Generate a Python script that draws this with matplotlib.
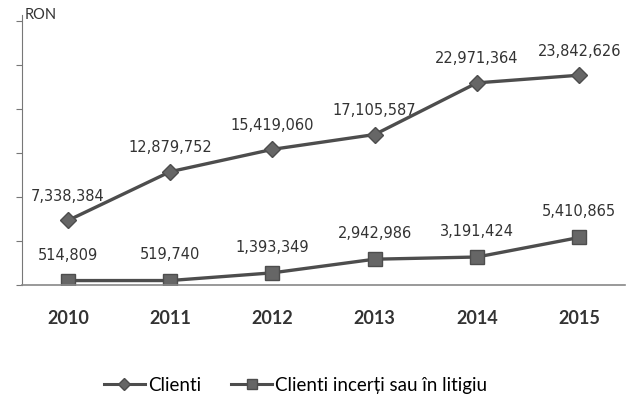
import numpy as np
import matplotlib
matplotlib.use('Agg')
import matplotlib.pyplot as plt
from matplotlib.ticker import MultipleLocator, NullFormatter
from matplotlib.lines import Line2D

# data
years = ['2010', '2011', '2012', '2013', '2014', '2015']
clienti = [7338384, 12879752, 15419060, 17105587, 22971364, 23842626]
clienti_incerti = [514809, 519740, 1393349, 2942986, 3191424, 5410865]
series_names = ['Clienti', 'Clienti incerți sau în litigiu']

line_col = '#4d4d4d'
mark_col = '#666666'

fig = plt.figure(figsize=(6.42, 4.12), dpi=100)
ax = fig.add_axes([0.034, 0.308, 0.94, 0.656])

x = np.arange(len(years))
ax.plot(x, clienti, color=line_col, lw=2.4, marker='D', ms=8,
        mfc=mark_col, mec=line_col)
ax.plot(x, clienti_incerti, color=line_col, lw=2.4, marker='s', ms=10,
        mfc=mark_col, mec=line_col)

# data labels
for xi, v in zip(x, clienti):
    ax.annotate(f'{v:,}', (xi, v), xytext=(0, 12), textcoords='offset points',
                ha='center', va='bottom', fontsize=10.5, color='#333333')
for xi, v in zip(x, clienti_incerti):
    ax.annotate(f'{v:,}', (xi, v), xytext=(0, 13), textcoords='offset points',
                ha='center', va='bottom', fontsize=10.5, color='#333333')

ax.set_xlim(-0.45, 5.45)
ax.set_ylim(0, 30.7e6)
ax.set_xticks(x)
ax.set_xticklabels(years, fontsize=13, fontweight='bold', color='#333333',
                   family='Lato')
ax.tick_params(axis='x', length=0, pad=18)
ax.yaxis.set_major_locator(MultipleLocator(5e6))
ax.yaxis.set_major_formatter(NullFormatter())
ax.tick_params(axis='y', length=4, width=0.8, color='#777777', direction='out')

for s in ['top', 'right']:
    ax.spines[s].set_visible(False)
ax.spines['left'].set_color('#777777')
ax.spines['bottom'].set_color('#888888')
ax.spines['bottom'].set_linewidth(1.2)

ax.text(0.005, 1.0, 'RON', transform=ax.transAxes, fontsize=10.5,
        family='Lato', color='#333333', va='center', ha='left')

# legend with small markers like the original
handles = [Line2D([], [], color=line_col, lw=2.2, marker='D', ms=6,
                  mfc=mark_col, mec=line_col),
           Line2D([], [], color=line_col, lw=2.2, marker='s', ms=7,
                  mfc=mark_col, mec=line_col)]
fig.legend(handles, series_names, loc='center', bbox_to_anchor=(0.46, 0.065),
           ncol=2, frameon=False, prop={'family': 'Lato', 'size': 13.5},
           handlelength=2.2, columnspacing=1.6, handletextpad=0.15)

fig.savefig('out.png', dpi=100, facecolor='white')
